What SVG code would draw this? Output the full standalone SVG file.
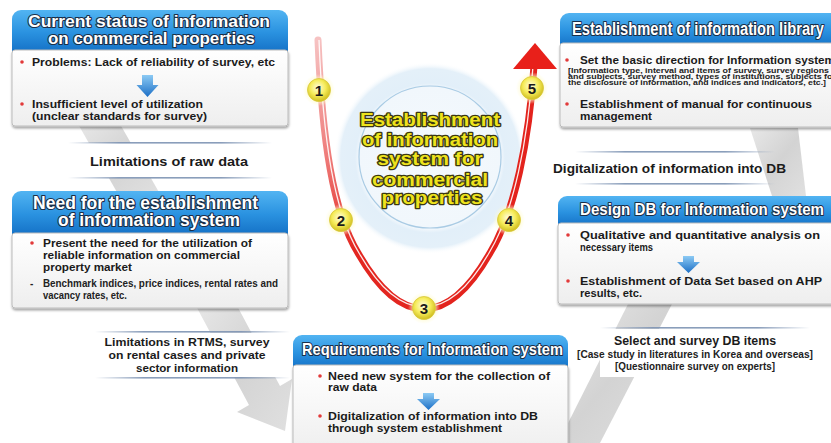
<svg xmlns="http://www.w3.org/2000/svg" width="831" height="443" viewBox="0 0 831 443">
  <defs>
    <style>
      .hdr { fill: url(#hdrGrad); }
      .body { fill: url(#bodyGrad); stroke: #bcbcbc; stroke-width: 1; filter: url(#shadow); }
      .htxt { font-family: "Liberation Sans Narrow", "Liberation Sans", Arial, sans-serif; font-weight: bold; fill: #ffffff; stroke: #1a2e48; stroke-width: 2.2; stroke-linejoin: round; paint-order: stroke; }
      .txt { font-family: "Liberation Sans", Arial, sans-serif; font-weight: bold; fill: #1b1b1b; font-size: 11.5px; }
      .small { font-family: "Liberation Sans Narrow", "Liberation Sans", Arial, sans-serif; font-weight: bold; fill: #222; }
      .lbl { font-family: "Liberation Sans", Arial, sans-serif; font-weight: bold; fill: #1b1b1b; }
      .bul { fill: #e23a3a; }
      .hub { font-family: "Liberation Sans", Arial, sans-serif; font-weight: bold; font-size: 18px; fill: #eee31d; stroke: #3b3812; stroke-width: 2.6; stroke-linejoin: round; paint-order: stroke; text-anchor: middle; }
      .num { font-family: "Liberation Sans", Arial, sans-serif; font-weight: bold; font-size: 15px; fill: #1a1a1a; text-anchor: middle; }
      .down { fill: url(#downGrad); }
      .gray { fill: url(#grayGrad); }
      .band { fill: #ffffff; }
      .rule { fill: url(#ruleGrad); }
    </style>
    <linearGradient id="hdrGrad" x1="0" y1="0" x2="0" y2="1">
      <stop offset="0" stop-color="#52b4f2"/>
      <stop offset="0.45" stop-color="#2a92e0"/>
      <stop offset="1" stop-color="#0c64bc"/>
    </linearGradient>
    <linearGradient id="bodyGrad" x1="0" y1="0" x2="0" y2="1">
      <stop offset="0" stop-color="#ffffff"/>
      <stop offset="1" stop-color="#eeeeee"/>
    </linearGradient>
    <linearGradient id="downGrad" x1="0" y1="0" x2="0" y2="1">
      <stop offset="0" stop-color="#8ccaf4"/>
      <stop offset="1" stop-color="#1c6fc6"/>
    </linearGradient>
    <linearGradient id="grayGrad" x1="0" y1="0" x2="1" y2="1">
      <stop offset="0" stop-color="#e8e8e8"/>
      <stop offset="0.5" stop-color="#d3d3d3"/>
      <stop offset="1" stop-color="#e0e0e0"/>
    </linearGradient>
    <linearGradient id="ruleGrad" x1="0" y1="0" x2="1" y2="0">
      <stop offset="0" stop-color="#7d93b3" stop-opacity="0"/>
      <stop offset="0.25" stop-color="#7d93b3" stop-opacity="0.9"/>
      <stop offset="0.75" stop-color="#7d93b3" stop-opacity="0.9"/>
      <stop offset="1" stop-color="#7d93b3" stop-opacity="0"/>
    </linearGradient>
    <linearGradient id="pathFade" gradientUnits="userSpaceOnUse" x1="318" y1="40" x2="360" y2="250">
      <stop offset="0" stop-color="#f6c2c2"/>
      <stop offset="0.55" stop-color="#ee7a78"/>
      <stop offset="1" stop-color="#e32620"/>
    </linearGradient>
    <radialGradient id="ballGrad" cx="0.45" cy="0.4" r="0.6">
      <stop offset="0" stop-color="#fffde0"/>
      <stop offset="0.55" stop-color="#f6ec5a"/>
      <stop offset="1" stop-color="#cfbd1e"/>
    </radialGradient>
    <radialGradient id="haloGrad" cx="0.5" cy="0.5" r="0.5">
      <stop offset="0.6" stop-color="#fffbd0" stop-opacity="0.9"/>
      <stop offset="1" stop-color="#fffbd0" stop-opacity="0"/>
    </radialGradient>
    <radialGradient id="hubGlow" cx="0.5" cy="0.5" r="0.5">
      <stop offset="0" stop-color="#f4f9fd"/>
      <stop offset="0.74" stop-color="#f1f7fc"/>
      <stop offset="0.78" stop-color="#e2eff9"/>
      <stop offset="0.93" stop-color="#e4f0f9"/>
      <stop offset="1" stop-color="#ffffff" stop-opacity="0"/>
    </radialGradient>
    <filter id="shadow" x="-5%" y="-5%" width="110%" height="120%">
      <feDropShadow dx="0.5" dy="2" stdDeviation="1.3" flood-color="#000" flood-opacity="0.35"/>
    </filter>
  </defs>

  <rect width="831" height="443" fill="#ffffff"/>

  <!-- wide grey flow arrows behind the boxes -->
  <g id="flow-arrows">
    <polygon class="gray" points="78,124 120,124 160,194 118,194"/>
    <polygon class="gray" points="196,306 234,300 280,386 292,379 285,431 237,412 249,405"/>
    <polygon class="gray" points="558,443 600,443 672,304 628,304"/>
    <polygon class="gray" points="750,128 798,128 806,196 772,196"/>
  </g>

  <!-- transition labels -->
  <g id="label-raw-data">
    <rect class="band" x="68" y="143" width="204" height="35"/>
    <rect class="rule" x="68" y="142" width="204" height="1.6"/>
    <rect class="rule" x="68" y="177" width="204" height="1.6"/>
    <text class="lbl" x="90" y="166" font-size="12.5" textLength="158" lengthAdjust="spacingAndGlyphs">Limitations of raw data</text>
  </g>
  <g id="label-digitalization">
    <rect class="band" x="545" y="152" width="205" height="32"/>
    <rect class="rule" x="575" y="151" width="200" height="1.6"/>
    <rect class="rule" x="575" y="183" width="200" height="1.6"/>
    <text class="lbl" x="553" y="173" font-size="12.5" textLength="233" lengthAdjust="spacingAndGlyphs">Digitalization of information into DB</text>
  </g>
  <g id="label-rtms">
    <rect class="band" x="100" y="333" width="180" height="44"/>
    <rect class="rule" x="95" y="331" width="195" height="1.6"/>
    <rect class="rule" x="95" y="377" width="195" height="1.6"/>
    <text class="lbl" x="187" y="346" font-size="11.5" text-anchor="middle" textLength="165" lengthAdjust="spacingAndGlyphs">Limitations in RTMS, survey</text>
    <text class="lbl" x="187" y="359" font-size="11.5" text-anchor="middle" textLength="157" lengthAdjust="spacingAndGlyphs">on rental cases and private</text>
    <text class="lbl" x="187" y="372" font-size="11.5" text-anchor="middle" textLength="102" lengthAdjust="spacingAndGlyphs">sector information</text>
  </g>
  <g id="label-select">
    <rect class="band" x="600" y="329" width="215" height="48"/>
    <rect class="rule" x="600" y="327" width="210" height="1.6"/>
    <text class="lbl" x="695" y="345" font-size="12" text-anchor="middle" textLength="162" lengthAdjust="spacingAndGlyphs">Select and survey DB items</text>
    <text class="small" x="695" y="358" font-size="10" text-anchor="middle" textLength="236" lengthAdjust="spacingAndGlyphs">[Case study in literatures in Korea and overseas]</text>
    <text class="small" x="695" y="370" font-size="10" text-anchor="middle" textLength="160" lengthAdjust="spacingAndGlyphs">[Questionnaire survey on experts]</text>
  </g>

  <!-- central hub -->
  <g id="hub">
    <circle cx="430" cy="158" r="96" fill="url(#hubGlow)"/>
    <circle cx="430" cy="157" r="71" fill="none" stroke="#a9cbe4" stroke-width="1.2"/>
    <text class="hub" x="430" y="126" textLength="140" lengthAdjust="spacingAndGlyphs">Establishment</text>
    <text class="hub" x="430" y="146" textLength="136" lengthAdjust="spacingAndGlyphs">of information</text>
    <text class="hub" x="430" y="165" textLength="105" lengthAdjust="spacingAndGlyphs">system for</text>
    <text class="hub" x="430" y="186" textLength="116" lengthAdjust="spacingAndGlyphs">commercial</text>
    <text class="hub" x="432" y="204" textLength="101" lengthAdjust="spacingAndGlyphs">properties</text>
  </g>

  <!-- the red U-shaped process path -->
  <g id="connectors">
    <path d="M318,40 C322,140 333,212 358,253 C378,288 400,309 424,309" fill="none" stroke="url(#pathFade)" stroke-width="7" stroke-linecap="round"/>
    <path d="M424,309 C448,309 470,288 490,253 C515,212 529,140 534,66" fill="none" stroke="#e3231d" stroke-width="7"/>
    <path d="M319,40 C323,140 334,212 359,253 C379,288 400,307 424,307 C448,307 469,288 489,253 C514,212 528,140 533,66" fill="none" stroke="#ffffff" stroke-width="1.3" opacity="0.9"/>
    <polygon points="535,43 557,69 513,69" fill="#e8201a"/>
  </g>

  <!-- numbered steps -->
  <g id="step-1">
    <circle cx="319" cy="90" r="16" fill="url(#haloGrad)"/>
    <circle cx="319" cy="90" r="11.5" fill="url(#ballGrad)" stroke="#d9c93a" stroke-width="0.8"/>
    <text class="num" x="319" y="95.5">1</text>
  </g>
  <g id="step-2">
    <circle cx="341" cy="220" r="16" fill="url(#haloGrad)"/>
    <circle cx="341" cy="220" r="11.5" fill="url(#ballGrad)" stroke="#d9c93a" stroke-width="0.8"/>
    <text class="num" x="341" y="225.5">2</text>
  </g>
  <g id="step-3">
    <circle cx="424" cy="308" r="16" fill="url(#haloGrad)"/>
    <circle cx="424" cy="308" r="11.5" fill="url(#ballGrad)" stroke="#d9c93a" stroke-width="0.8"/>
    <text class="num" x="424" y="313.5">3</text>
  </g>
  <g id="step-4">
    <circle cx="509" cy="220" r="16" fill="url(#haloGrad)"/>
    <circle cx="509" cy="220" r="11.5" fill="url(#ballGrad)" stroke="#d9c93a" stroke-width="0.8"/>
    <text class="num" x="509" y="225.5">4</text>
  </g>
  <g id="step-5">
    <circle cx="532" cy="88" r="16" fill="url(#haloGrad)"/>
    <circle cx="532" cy="88" r="11.5" fill="url(#ballGrad)" stroke="#d9c93a" stroke-width="0.8"/>
    <text class="num" x="532" y="93.5">5</text>
  </g>

  <!-- box: current status -->
  <g id="box-current-status">
    <rect class="hdr" x="12" y="10" width="276" height="50" rx="9"/>
    <rect class="body" x="12" y="50" width="276" height="76" rx="3"/>
    <text class="htxt" x="28" y="27" font-size="17" textLength="242" lengthAdjust="spacingAndGlyphs">Current status of information</text>
    <text class="htxt" x="48" y="44" font-size="17" textLength="207" lengthAdjust="spacingAndGlyphs">on commercial properties</text>
    <circle class="bul" cx="22" cy="62" r="1.8"/>
    <text class="txt" x="32" y="66" textLength="243" lengthAdjust="spacingAndGlyphs">Problems: Lack of reliability of survey, etc</text>
    <path class="down" d="M142,75 h11 v10 h5.5 l-11,12 l-11,-12 h5.5 z"/>
    <circle class="bul" cx="22" cy="104" r="1.8"/>
    <text class="txt" x="32" y="108" textLength="171" lengthAdjust="spacingAndGlyphs">Insufficient level of utilization</text>
    <text class="txt" x="32" y="119.5" textLength="175" lengthAdjust="spacingAndGlyphs">(unclear standards for survey)</text>
  </g>

  <!-- box: need for the system -->
  <g id="box-need">
    <rect class="hdr" x="12" y="191" width="276" height="52" rx="9"/>
    <rect class="body" x="12" y="233" width="276" height="75" rx="3"/>
    <text class="htxt" x="33" y="209" font-size="17.5" textLength="225" lengthAdjust="spacingAndGlyphs">Need for the establishment</text>
    <text class="htxt" x="58" y="226" font-size="17.5" textLength="182" lengthAdjust="spacingAndGlyphs">of information system</text>
    <circle class="bul" cx="32" cy="243" r="1.8"/>
    <text class="txt" x="43" y="247" textLength="209" lengthAdjust="spacingAndGlyphs">Present the need for the utilization of</text>
    <text class="txt" x="43" y="259" textLength="197" lengthAdjust="spacingAndGlyphs">reliable information on commercial</text>
    <text class="txt" x="43" y="271" textLength="89" lengthAdjust="spacingAndGlyphs">property market</text>
    <text class="small" x="30" y="287" font-size="10">-</text>
    <text class="small" x="43" y="287" font-size="10" textLength="235" lengthAdjust="spacingAndGlyphs">Benchmark indices, price indices, rental rates and</text>
    <text class="small" x="43" y="299" font-size="10" textLength="84" lengthAdjust="spacingAndGlyphs">vacancy rates, etc.</text>
  </g>

  <!-- box: requirements -->
  <g id="box-requirements">
    <rect class="hdr" x="293" y="335" width="275" height="40" rx="9"/>
    <rect class="body" x="293" y="365" width="275" height="90" rx="3"/>
    <text class="htxt" x="302" y="355" font-size="17" textLength="261" lengthAdjust="spacingAndGlyphs">Requirements for Information system</text>
    <circle class="bul" cx="320" cy="376" r="1.8"/>
    <text class="txt" x="328" y="380" textLength="222" lengthAdjust="spacingAndGlyphs">Need new system for the collection of</text>
    <text class="txt" x="328" y="391" textLength="49" lengthAdjust="spacingAndGlyphs">raw data</text>
    <path class="down" d="M423,393 h11 v6 h6 l-11.5,11 l-11.5,-11 h6 z"/>
    <circle class="bul" cx="320" cy="416" r="1.8"/>
    <text class="txt" x="328" y="420" textLength="210" lengthAdjust="spacingAndGlyphs">Digitalization of information into DB</text>
    <text class="txt" x="328" y="432" textLength="174" lengthAdjust="spacingAndGlyphs">through system establishment</text>
  </g>

  <!-- box: design DB -->
  <g id="box-design-db">
    <rect class="hdr" x="558" y="196" width="290" height="36" rx="9"/>
    <rect class="body" x="558" y="223" width="290" height="81" rx="3"/>
    <text class="htxt" x="580" y="215" font-size="17" textLength="244" lengthAdjust="spacingAndGlyphs">Design DB for Information system</text>
    <circle class="bul" cx="568" cy="235" r="1.8"/>
    <text class="txt" x="580" y="239" textLength="240" lengthAdjust="spacingAndGlyphs">Qualitative and quantitative analysis on</text>
    <text class="txt" x="580" y="251" textLength="73" lengthAdjust="spacingAndGlyphs">necessary items</text>
    <path class="down" d="M683,256 h11 v6 h6 l-11.5,11 l-11.5,-11 h6 z"/>
    <circle class="bul" cx="568" cy="281" r="1.8"/>
    <text class="txt" x="580" y="285" textLength="242" lengthAdjust="spacingAndGlyphs">Establishment of Data Set based on AHP</text>
    <text class="txt" x="580" y="297" textLength="62" lengthAdjust="spacingAndGlyphs">results, etc.</text>
  </g>

  <!-- box: information library -->
  <g id="box-library">
    <rect class="hdr" x="560" y="13" width="290" height="40" rx="9"/>
    <rect class="body" x="560" y="43" width="290" height="84" rx="3"/>
    <text class="htxt" x="572" y="35" font-size="17.5" textLength="252" lengthAdjust="spacingAndGlyphs">Establishment of information library</text>
    <circle class="bul" cx="567" cy="60" r="1.8"/>
    <text class="txt" x="580" y="64" font-size="12.5" textLength="255" lengthAdjust="spacingAndGlyphs">Set the basic direction for Information system</text>
    <text class="small" x="568" y="73" font-size="6.8" textLength="261" lengthAdjust="spacingAndGlyphs">[Information type, interval and items of survey, survey regions</text>
    <text class="small" x="568" y="79" font-size="6.8" textLength="268" lengthAdjust="spacingAndGlyphs">and subjects, survey method, types of institutions, subjects for</text>
    <text class="small" x="568" y="85" font-size="6.8" textLength="258" lengthAdjust="spacingAndGlyphs">the disclosure of information, and indices and indicators, etc.]</text>
    <circle class="bul" cx="567" cy="104" r="1.8"/>
    <text class="txt" x="580" y="108" font-size="12.5" textLength="232" lengthAdjust="spacingAndGlyphs">Establishment of manual for continuous</text>
    <text class="txt" x="580" y="120" font-size="12.5" textLength="72" lengthAdjust="spacingAndGlyphs">management</text>
  </g>
</svg>
